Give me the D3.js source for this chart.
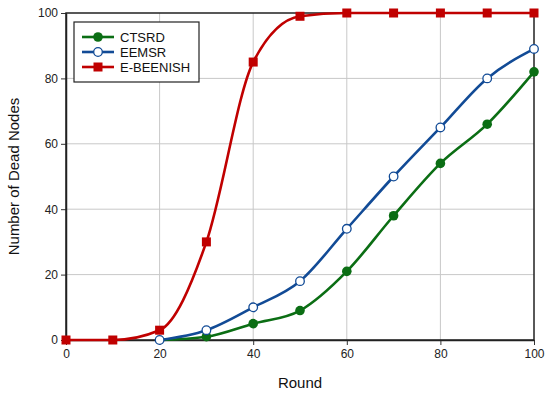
<!DOCTYPE html>
<html><head><meta charset="utf-8">
<script src="https://cdnjs.cloudflare.com/ajax/libs/d3/7.8.5/d3.min.js"></script>
<style>body{margin:0;background:#fff}svg{display:block;font-family:"Liberation Sans",Arial,sans-serif}</style>
</head><body><svg id="c" width="550" height="398"></svg>
<script>
const rounds = [0,10,20,30,40,50,60,70,80,90,100];
const ctsrdRounds = [20,30,40,50,60,70,80,90,100];
const ctsrd = [0,1,5,9,21,38,54,66,82];
const eemsrRounds = [20,30,40,50,60,70,80,90,100];
const eemsr = [0,3,10,18,34,50,65,80,89];
const ebeenish = [0,0,3,30,85,99,100,100,100,100,100];
const xTicks = [0,20,40,60,80,100];
const yTicks = [0,20,40,60,80,100];

const svg = d3.select("#c");
const m = {l:66, r:534, t:13, b:340};
const x = d3.scaleLinear().domain([0,100]).range([m.l,m.r]);
const y = d3.scaleLinear().domain([0,100]).range([m.b,m.t]);

// grid
svg.append("g").selectAll("line.gx").data(xTicks.slice(1,-1)).join("line")
  .attr("x1",d=>x(d)).attr("x2",d=>x(d)).attr("y1",m.t).attr("y2",m.b)
  .attr("stroke","#c8c8c8").attr("stroke-width",1);
svg.append("g").selectAll("line.gy").data(yTicks.slice(1,-1)).join("line")
  .attr("y1",d=>y(d)).attr("y2",d=>y(d)).attr("x1",m.l).attr("x2",m.r)
  .attr("stroke","#c8c8c8").attr("stroke-width",1);

// axes
const xa = svg.append("g").attr("transform",`translate(0,${m.b})`)
  .call(d3.axisBottom(x).tickValues(xTicks).tickSize(5).tickPadding(4).tickSizeOuter(0));
const ya = svg.append("g").attr("transform",`translate(${m.l},0)`)
  .call(d3.axisLeft(y).tickValues(yTicks).tickSize(5).tickPadding(3).tickSizeOuter(0));
[xa,ya].forEach(a=>{a.selectAll("text").attr("font-size",12).attr("fill","#222").attr("font-family","Liberation Sans, Arial, sans-serif");
  a.selectAll("line").attr("stroke","#333"); a.select(".domain").attr("stroke","#222").attr("stroke-width",1.5);});
svg.append("rect").attr("x",m.l).attr("y",m.t).attr("width",m.r-m.l).attr("height",m.b-m.t)
  .attr("fill","none").attr("stroke","#222").attr("stroke-width",1.5);

const line = d3.line().x(d=>x(d[0])).y(d=>y(d[1])).curve(d3.curveMonotoneX);
const series = [
  {name:"CTSRD", xs:ctsrdRounds, ys:ctsrd, color:"#0b6e14", marker:"dot"},
  {name:"EEMSR", xs:eemsrRounds, ys:eemsr, color:"#124b96", marker:"open"},
  {name:"E-BEENISH", xs:rounds, ys:ebeenish, color:"#c00000", marker:"square"}
];
function drawMarker(g, s, cx, cy){
  if(s.marker==="square") g.append("rect").attr("x",cx-4.5).attr("y",cy-4.5).attr("width",9).attr("height",9).attr("fill",s.color);
  else if(s.marker==="open") g.append("circle").attr("cx",cx).attr("cy",cy).attr("r",4.3).attr("fill","#fff").attr("stroke",s.color).attr("stroke-width",1.3);
  else g.append("circle").attr("cx",cx).attr("cy",cy).attr("r",4.8).attr("fill",s.color);
}
series.forEach(s=>{
  const pts = s.xs.map((r,i)=>[r,s.ys[i]]);
  svg.append("path").attr("d",line(pts)).attr("fill","none").attr("stroke",s.color).attr("stroke-width",2.6);
  const g = svg.append("g");
  pts.forEach((p,i)=>{ if(s.name==="CTSRD" && i===0) return; drawMarker(g,s,x(p[0]),y(p[1])); });
});

// legend
const lg = svg.append("g");
lg.append("rect").attr("x",74).attr("y",22).attr("width",125).height=0;
lg.select("rect").attr("height",60).attr("fill","#fff").attr("stroke","#222").attr("stroke-width",1.2);
series.forEach((s,i)=>{
  const yy = 37 + i*15;
  lg.append("line").attr("x1",82).attr("x2",114).attr("y1",yy).attr("y2",yy).attr("stroke",s.color).attr("stroke-width",2.6);
  drawMarker(lg,s,98,yy);
  lg.append("text").attr("x",120).attr("y",yy+4.5).attr("font-size",13).attr("fill","#111").text(s.name);
});

svg.append("text").attr("x",x(50)).attr("y",388).attr("text-anchor","middle").attr("font-size",15).attr("fill","#111").text("Round");
svg.append("text").attr("transform",`translate(19,${(m.t+m.b)/2}) rotate(-90)`).attr("text-anchor","middle").attr("font-size",15).attr("fill","#111").text("Number of Dead Nodes");
</script></body></html>
